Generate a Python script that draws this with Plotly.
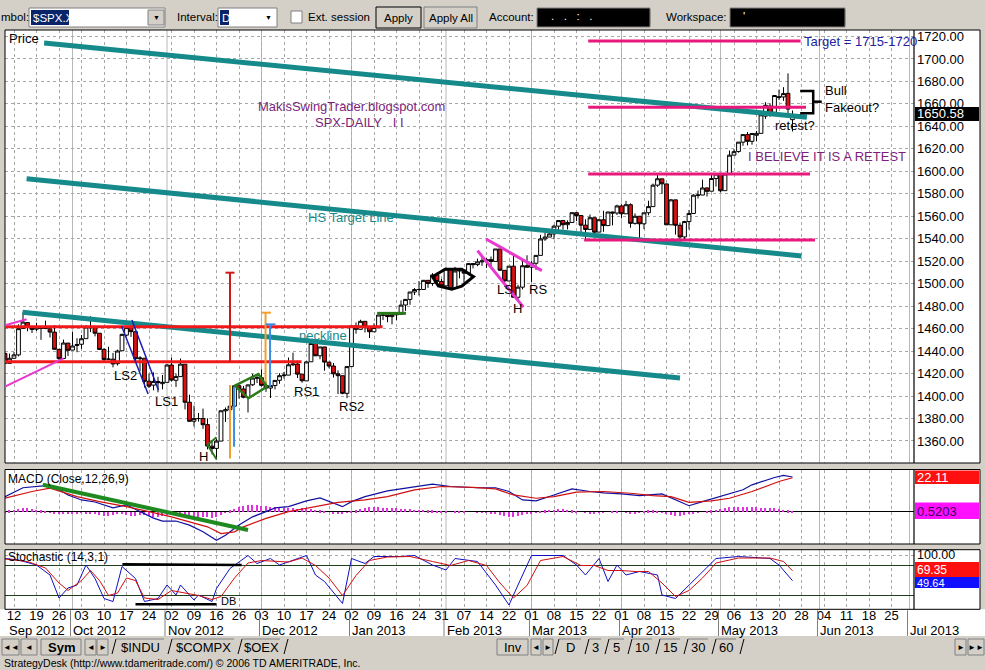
import plotly.graph_objects as go

# ---------------- DATA ----------------
dates = (
    ["2012-09-%02d" % d for d in [10, 11, 12, 13, 14, 17, 18, 19, 20, 21, 24, 25, 26, 27, 28]] +
    ["2012-10-%02d" % d for d in [1, 2, 3, 4, 5, 8, 9, 10, 11, 12, 15, 16, 17, 18, 19, 22, 23, 24, 25, 26, 31]] +
    ["2012-11-%02d" % d for d in [1, 2, 5, 6, 7, 8, 9, 12, 13, 14, 15, 16, 19, 20, 21, 23, 26, 27, 28, 29, 30]] +
    ["2012-12-%02d" % d for d in [3, 4, 5, 6, 7, 10, 11, 12, 13, 14, 17, 18, 19, 20, 21, 24, 26, 27, 28, 31]] +
    ["2013-01-%02d" % d for d in [2, 3, 4, 7, 8, 9, 10, 11, 14, 15, 16, 17, 18, 22, 23, 24, 25, 28, 29, 30, 31]] +
    ["2013-02-%02d" % d for d in [1, 4, 5, 6, 7, 8, 11, 12, 13, 14, 15, 19, 20, 21, 22, 25, 26, 27, 28]] +
    ["2013-03-%02d" % d for d in [1, 4, 5, 6, 7, 8, 11, 12, 13, 14, 15, 18, 19, 20, 21, 22, 25, 26, 27, 28]] +
    ["2013-04-%02d" % d for d in [1, 2, 3, 4, 5, 8, 9, 10, 11, 12, 15, 16, 17, 18, 19, 22, 23, 24, 25, 26, 29, 30]] +
    ["2013-05-%02d" % d for d in [1, 2, 3, 6, 7, 8, 9, 10, 13, 14, 15, 16, 17, 20, 21, 22, 23]]
)

opens = [
    1437.9, 1429.1, 1433.6, 1436.6, 1460.1, 1465.4, 1461.2, 1459.5, 1461.1, 1460.3, 1459.8, 1456.9, 1441.6, 1433.4, 1447.1,
    1440.9, 1445.0, 1446.1, 1451.1, 1461.4, 1460.9, 1455.9, 1441.5, 1432.8, 1432.8, 1428.8, 1440.3, 1454.2, 1460.9, 1457.3, 1433.2, 1433.7, 1413.2, 1409.7, 1413.0, 1411.0,
    1412.2, 1427.6, 1414.0, 1417.3, 1428.3, 1394.5, 1377.6, 1379.9, 1380.0, 1374.6, 1355.4, 1353.4, 1359.9, 1386.8, 1387.8, 1391.0, 1409.2, 1406.3, 1398.8, 1410.0, 1416.0,
    1416.3, 1409.5, 1407.1, 1409.4, 1414.0, 1418.1, 1418.6, 1427.8, 1428.5, 1419.5, 1413.5, 1430.5, 1446.8, 1435.8, 1443.7, 1430.2, 1426.7, 1419.8, 1418.1, 1402.4,
    1426.2, 1462.4, 1459.4, 1466.5, 1461.9, 1457.2, 1461.0, 1472.1, 1472.1, 1470.7, 1472.3, 1472.6, 1481.0, 1486.0, 1492.6, 1494.8, 1494.8, 1503.0, 1500.2, 1507.8, 1502.0,
    1498.1, 1513.2, 1495.7, 1511.3, 1512.1, 1509.4, 1517.9, 1517.0, 1519.4, 1520.3, 1521.4, 1519.8, 1530.9, 1511.9, 1502.4, 1515.6, 1487.9, 1496.9, 1516.0,
    1514.7, 1518.2, 1525.2, 1539.8, 1541.5, 1544.3, 1551.2, 1556.2, 1552.5, 1554.5, 1563.2, 1560.7, 1552.1, 1548.3, 1558.7, 1545.9, 1556.9, 1551.7, 1563.8, 1562.9,
    1569.2, 1562.2, 1570.3, 1553.7, 1560.0, 1553.3, 1563.1, 1568.6, 1587.7, 1593.3, 1588.8, 1552.4, 1574.6, 1552.0, 1541.6, 1555.3, 1562.5, 1578.8, 1578.9, 1585.2, 1582.3, 1593.6,
    1597.6, 1582.8, 1597.6, 1614.4, 1617.6, 1626.0, 1632.7, 1626.7, 1632.1, 1633.8, 1649.1, 1658.1, 1652.5, 1665.7, 1666.2, 1669.4, 1646.0,
]
highs = [
    1438.7, 1437.8, 1439.2, 1463.8, 1474.5, 1465.6, 1461.5, 1465.2, 1461.2, 1467.1, 1460.7, 1463.2, 1441.6, 1450.2, 1447.1,
    1457.1, 1451.5, 1454.3, 1463.1, 1471.0, 1460.9, 1455.9, 1442.5, 1443.9, 1438.4, 1441.3, 1455.5, 1462.2, 1464.0, 1457.3, 1435.5, 1433.7, 1420.0, 1421.1, 1417.1, 1418.8,
    1428.4, 1434.3, 1419.9, 1433.4, 1428.3, 1401.2, 1391.4, 1384.9, 1388.8, 1380.1, 1360.6, 1362.0, 1386.9, 1389.8, 1391.3, 1409.2, 1409.2, 1409.0, 1410.3, 1419.7, 1418.9,
    1423.7, 1413.1, 1415.6, 1414.0, 1420.3, 1421.6, 1434.3, 1438.6, 1431.4, 1419.5, 1430.7, 1448.0, 1447.8, 1443.7, 1443.7, 1430.2, 1429.4, 1422.8, 1418.1, 1426.7,
    1462.4, 1465.5, 1467.9, 1466.5, 1461.9, 1464.7, 1472.3, 1472.8, 1472.1, 1473.3, 1474.0, 1485.2, 1486.0, 1492.6, 1496.1, 1502.3, 1503.3, 1503.2, 1509.4, 1509.9, 1504.2,
    1514.4, 1513.2, 1515.0, 1512.5, 1512.9, 1518.3, 1518.3, 1522.3, 1524.7, 1523.1, 1524.2, 1530.9, 1530.9, 1512.0, 1515.6, 1525.8, 1499.0, 1520.1, 1525.3,
    1520.0, 1525.3, 1543.5, 1545.3, 1545.8, 1552.5, 1556.3, 1556.8, 1556.4, 1563.3, 1563.6, 1560.7, 1557.3, 1561.6, 1558.7, 1557.7, 1564.9, 1564.0, 1564.1, 1570.3,
    1570.6, 1573.7, 1571.5, 1562.6, 1560.0, 1563.1, 1573.9, 1589.1, 1597.4, 1593.3, 1588.8, 1575.4, 1574.6, 1554.4, 1555.9, 1565.6, 1579.6, 1583.0, 1592.6, 1585.8, 1596.7, 1597.6,
    1597.6, 1598.6, 1618.5, 1619.8, 1626.0, 1632.8, 1635.0, 1633.7, 1636.0, 1651.1, 1661.5, 1660.5, 1667.5, 1672.8, 1674.9, 1687.2, 1654.2,
]
lows = [
    1429.0, 1429.1, 1433.0, 1435.3, 1460.1, 1457.6, 1456.1, 1457.9, 1450.0, 1459.5, 1452.1, 1441.6, 1430.5, 1433.4, 1435.6,
    1440.9, 1439.0, 1442.0, 1451.1, 1456.9, 1453.1, 1441.2, 1430.6, 1432.8, 1425.5, 1427.2, 1440.3, 1453.4, 1452.6, 1429.9, 1422.1, 1407.6, 1407.1, 1405.1, 1403.3, 1406.0,
    1412.2, 1412.9, 1408.1, 1417.3, 1388.1, 1377.5, 1373.0, 1377.2, 1370.8, 1352.5, 1348.1, 1343.4, 1359.9, 1377.0, 1386.4, 1391.0, 1397.7, 1398.0, 1385.4, 1409.0, 1411.6,
    1408.5, 1403.7, 1398.2, 1405.9, 1410.9, 1415.6, 1418.6, 1426.8, 1416.0, 1411.9, 1413.5, 1430.5, 1435.8, 1432.8, 1422.6, 1424.7, 1416.4, 1401.8, 1401.6, 1398.1,
    1426.2, 1455.5, 1459.0, 1456.6, 1451.6, 1457.2, 1461.0, 1467.6, 1465.7, 1463.8, 1467.6, 1472.6, 1475.8, 1481.2, 1489.9, 1489.5, 1494.8, 1496.3, 1498.1, 1500.1, 1496.8,
    1498.1, 1495.0, 1495.7, 1504.7, 1498.5, 1509.4, 1513.6, 1515.6, 1515.9, 1514.0, 1514.1, 1519.8, 1511.4, 1497.3, 1502.4, 1487.9, 1485.0, 1494.9, 1514.5,
    1501.5, 1512.3, 1525.2, 1538.1, 1541.5, 1539.5, 1547.4, 1548.2, 1548.3, 1554.5, 1555.7, 1545.1, 1538.6, 1548.3, 1543.6, 1545.9, 1546.2, 1551.7, 1551.9, 1561.1,
    1558.5, 1562.2, 1549.8, 1552.5, 1539.5, 1548.6, 1560.9, 1568.6, 1586.2, 1580.0, 1552.3, 1552.4, 1543.7, 1536.0, 1539.4, 1548.2, 1562.5, 1575.8, 1578.9, 1577.6, 1582.3, 1586.5,
    1581.3, 1582.8, 1597.6, 1614.2, 1616.6, 1622.7, 1623.1, 1623.7, 1626.7, 1633.8, 1646.7, 1648.6, 1652.5, 1663.5, 1662.7, 1648.9, 1635.5,
]
closes = [
    1429.1, 1433.6, 1436.6, 1460.0, 1465.8, 1461.2, 1459.3, 1461.1, 1460.3, 1460.2, 1456.9, 1441.6, 1433.3, 1447.2, 1440.7,
    1444.5, 1445.8, 1451.0, 1461.4, 1460.9, 1455.9, 1441.5, 1432.6, 1432.8, 1428.6, 1440.1, 1454.9, 1460.9, 1457.3, 1433.2, 1433.8, 1413.1, 1408.8, 1413.0, 1411.9, 1412.2,
    1427.6, 1414.2, 1417.3, 1428.4, 1394.5, 1377.5, 1379.9, 1380.0, 1374.5, 1355.5, 1353.3, 1359.9, 1386.9, 1387.8, 1391.0, 1409.2, 1406.3, 1398.9, 1409.9, 1416.0, 1416.2,
    1409.5, 1407.1, 1409.3, 1413.9, 1418.1, 1418.6, 1427.8, 1428.5, 1419.5, 1413.6, 1430.4, 1446.8, 1435.8, 1443.7, 1430.2, 1426.7, 1419.8, 1418.1, 1402.4, 1426.2,
    1462.4, 1459.4, 1466.5, 1461.9, 1457.2, 1461.0, 1472.1, 1472.1, 1470.7, 1472.3, 1472.6, 1480.9, 1486.0, 1492.6, 1494.8, 1494.8, 1503.0, 1500.2, 1507.8, 1502.0, 1498.1,
    1513.2, 1495.7, 1511.3, 1512.1, 1509.4, 1517.9, 1517.0, 1519.4, 1520.3, 1521.4, 1519.8, 1530.9, 1512.0, 1502.4, 1515.6, 1487.9, 1496.9, 1516.0, 1514.7,
    1518.2, 1525.2, 1539.8, 1541.5, 1544.3, 1551.2, 1556.2, 1552.5, 1554.5, 1563.2, 1560.7, 1552.1, 1548.3, 1558.7, 1545.8, 1556.9, 1551.7, 1563.8, 1562.9, 1569.2,
    1562.2, 1570.3, 1553.7, 1560.0, 1553.3, 1563.1, 1568.6, 1587.7, 1593.4, 1588.9, 1552.4, 1574.6, 1552.0, 1541.6, 1555.3, 1562.5, 1578.8, 1578.8, 1585.2, 1582.2, 1593.6, 1597.6,
    1582.7, 1597.6, 1614.4, 1617.5, 1626.0, 1632.7, 1626.7, 1633.7, 1633.8, 1650.3, 1658.8, 1650.5, 1667.5, 1666.3, 1669.2, 1655.4, 1650.5,
]

# MACD (12,26,9): (trading-day index, value)
macd_x = [0, 4, 9, 12, 14, 17, 20, 24, 27, 30, 33, 35, 38, 41, 44, 47, 49, 52, 55, 58, 60, 63, 67, 70, 73, 75, 77, 80, 85, 91,
          95, 99, 105, 109, 112, 115, 118, 122, 126, 130, 133, 137, 141, 146, 149, 152, 155, 159, 164, 166, 171, 173, 175]
macd_v = [9.5, 15.2, 16.6, 13.9, 10.6, 7.4, 6.1, 2.3, 4.2, -0.1, -4.2, -6.1, -6.1, -8.7, -13.0, -18.4, -15.2, -8.7, -3.4, -0.1,
          2.3, 3.1, 6.8, 8.7, 5.5, 3.1, 6.3, 9.5, 13.2, 16.0, 17.5, 16.0, 15.2, 15.2, 12.8, 7.4, 6.8, 10.6, 14.5, 12.8,
          11.9, 11.3, 10.2, 11.3, 7.4, 3.7, 6.3, 9.5, 13.9, 17.1, 21.8, 23.1, 22.1]
sig_x = [0, 6, 10, 16, 21, 27, 32, 37, 41, 45, 48, 51, 53, 58, 63, 69, 74, 80, 85, 91, 97, 104, 109, 113, 118, 122, 127,
         133, 139, 144, 148, 152, 157, 161, 166, 172, 175]
sig_v = [8.5, 12.8, 15.0, 9.5, 6.3, 3.1, -0.1, -3.4, -6.6, -9.8, -14.1, -13.0, -9.8, -4.4, -0.1, 3.1, 5.9, 7.4, 9.5, 13.9,
         16.0, 15.4, 14.5, 10.6, 8.5, 9.5, 12.4, 12.8, 11.7, 10.2, 9.5, 5.9, 6.8, 8.5, 12.8, 19.2, 21.6]
# MACD histogram, one bar per trading day
hist_v = [
    0.5, 1.0,
    1.5, 2.0, 2.5, 2.5, 2.0, 1.5, 1.0, 0.5,
    -0.5, -1.0, -1.5, -1.5, -1.5, -1.0, -0.8, -0.5, -0.8, -1.0, -1.5, -2.0, -2.5, -2.5, -2.0, -1.5, -1.5, -2.0, -2.5, -2.5, -2.0,
    -2.0, -2.5, -3.0, -3.0, -2.5, -2.0, -2.0, -2.5, -3.0, -3.5, -3.5, -3.5, -3.0, -3.0, -3.5, -4.0, -3.5, -2.0,
    -0.5,
    1.0, 2.0, 3.0, 4.0, 4.5, 4.5, 4.5, 4.0, 4.0, 3.5, 3.0, 3.0, 2.5, 2.5, 2.5, 2.0, 2.5, 2.5, 2.0, 1.5, 1.0, 0.5, 0.0,
    -1.0, -1.5, -1.5, -0.5,
    0.5, 1.0, 2.0, 2.5, 3.0, 3.0, 3.0, 2.5, 2.5, 2.5, 2.5, 2.0, 2.0, 2.0, 1.5, 1.5, 1.5, 1.0, 1.0, 0.5, 0.5, 0.5, 0.0, 0.5,
    0.5, 0.5, 0.0, 0.0, -0.5, -0.5, -0.5,
    -1.0, -1.5, -2.0, -2.5, -3.0, -3.0, -2.5, -2.0, -1.5, -1.0, -0.5,
    0.5, 1.0, 1.5, 1.5, 2.0, 2.0, 1.5, 1.0, 0.5, 0.0,
    -0.5, -1.0, -1.0, -0.5, -0.5, 0.0, 0.5, 0.5,
    0.0, -0.5, -1.0, -1.0, -0.5, 0.5, 1.0, 1.0, 0.5, -0.5,
    -1.5, -2.0, -2.5, -2.5, -2.0, -1.5, -1.0, -0.5, 0.0,
    0.5, 1.0, 1.5, 2.0, 2.5, 3.0, 3.0, 3.0, 3.0, 3.0, 3.0, 3.0, 2.5, 2.5, 2.5, 2.5, 2.0, 1.5, 1.0, 0.5203,
]

# Stochastic (14,3,1)
k_x = [0, 3, 7, 10, 12, 14, 16, 18, 20, 22, 24, 26, 29, 31, 34, 36, 38, 39, 42, 43, 46, 47, 50, 54, 56, 59, 61, 64, 67, 69,
       71, 75, 77, 80, 82, 88, 91, 95, 98, 100, 105, 109, 112, 114, 117, 124, 127, 129, 132, 134, 136, 138, 141, 145, 146,
       149, 152, 155, 158, 163, 170, 172, 175]
k_v = [94, 91, 81, 61, 15, 35, 41, 81, 54, 14, 8, 78, 54, 8, 14, 41, 21, 41, 11, 21, 8, 34, 74, 100, 84, 94, 81, 91, 100, 61,
       48, 4, 94, 84, 98, 98, 100, 81, 71, 94, 88, 41, 1, 41, 100, 100, 81, 61, 94, 48, 81, 61, 68, 61, 21, 14, 41, 68, 94,
       98, 94, 81, 49.64]
d_x = [0, 5, 9, 12, 14, 17, 19, 21, 23, 25, 27, 29, 31, 34, 37, 40, 43, 46, 48, 51, 54, 57, 60, 63, 66, 69, 72, 75, 78, 81,
       85, 90, 95, 99, 103, 107, 110, 113, 116, 119, 124, 128, 131, 134, 137, 140, 143, 146, 149, 152, 155, 158, 163, 170,
       173, 175]
d_v = [93, 88, 75, 45, 30, 50, 70, 50, 20, 25, 55, 50, 15, 12, 30, 25, 20, 12, 18, 55, 85, 90, 88, 87, 95, 80, 55, 20, 60,
       90, 97, 98, 88, 80, 90, 80, 45, 15, 40, 90, 98, 80, 80, 70, 70, 68, 68, 45, 18, 30, 55, 85, 95, 95, 88, 69.35]

# date axis labels (one every 5 trading days, first on 2012-09-12)
tick_labels = ["12", "19", "26", "03", "10", "17", "24", "02", "09", "16", "26", "03", "10", "17", "24", "02", "09", "16",
               "24", "31", "07", "14", "22", "01", "08", "15", "22", "01", "08", "15", "22", "29", "06", "13", "20", "28",
               "04", "11", "18", "25"]
first_tick = 2
month_labels = ["Oct 2012", "Nov 2012", "Dec 2012", "Jan 2013", "Feb 2013", "Mar 2013", "Apr 2013", "May 2013",
                "Jun 2013", "Jul 2013"]
month_start = [15, 36, 57, 77, 98, 117, 137, 159, 181, 201]
price_ticks = [1360 + 20 * i for i in range(19)]

# ---------------- GEOMETRY / STYLE ----------------
W, H = 985, 670
FONT = "Liberation Sans, Arial, sans-serif"
GRAY = "#d4d0c8"
L, R, RA = 5, 914, 980
P_TOP, P_BOT = 30, 463
M_TOP, M_BOT = 469.5, 544
S_TOP, S_BOT = 549.7, 609.3
X_RANGE = [0, 202]


def fx(p):
    return p / W


def fy(p):
    return 1 - p / H


shapes = []
annos = []


def rect(x0, y0, x1, y1, fill, line=None, lw=1, layer="above"):
    shapes.append(dict(type="rect", xref="paper", yref="paper", x0=fx(x0), x1=fx(x1), y0=fy(y1), y1=fy(y0),
                       fillcolor=fill, line=dict(color=line or fill, width=lw if line else 0), layer=layer))


def pline(x0, y0, x1, y1, color, lw=1, dash="solid"):
    shapes.append(dict(type="line", xref="paper", yref="paper", x0=fx(x0), x1=fx(x1), y0=fy(y0), y1=fy(y1),
                       line=dict(color=color, width=lw, dash=dash)))


def ptext(t, x, y, size=12, color="black", anchor="left", bold=False):
    annos.append(dict(text=("<b>%s</b>" % t) if bold else t, xref="paper", yref="paper", x=fx(x), y=fy(y),
                      xanchor=anchor, yanchor="middle", showarrow=False,
                      font=dict(family=FONT, size=size, color=color), borderpad=0))


def dline(x0, p0, x1, p1, color, lw, ax="", dash="solid"):
    shapes.append(dict(type="line", xref="x" + ax, yref="y" + ax, x0=x0, y0=p0, x1=x1, y1=p1,
                       line=dict(color=color, width=lw, dash=dash)))


def dpath(pts, color, lw, closed=False):
    d = "M " + " L ".join("%s,%s" % (a, b) for a, b in pts) + (" Z" if closed else "")
    shapes.append(dict(type="path", xref="x", yref="y", path=d, line=dict(color=color, width=lw)))


def dtext(t, x, p, color="black", size=13, anchor="left", ax=""):
    annos.append(dict(text=t, xref="x" + ax, yref="y" + ax, x=x, y=p, xanchor=anchor, yanchor="middle",
                      showarrow=False, font=dict(family=FONT, size=size, color=color)))


# ---------------- FIGURE ----------------
N = len(closes)
xi = list(range(N))
fig = go.Figure()
fig.add_trace(go.Candlestick(
    x=xi, open=opens, high=highs, low=lows, close=closes, xaxis="x", yaxis="y",
    increasing=dict(line=dict(color="black", width=1), fillcolor="white"),
    decreasing=dict(line=dict(color="black", width=1), fillcolor="#e01010"),
    whiskerwidth=0, showlegend=False, hoverinfo="skip"))

fig.add_trace(go.Bar(x=xi, y=hist_v, width=0.25, marker=dict(color="#e030e0", line=dict(width=0)),
                     xaxis="x2", yaxis="y2", showlegend=False, hoverinfo="skip"))
fig.add_trace(go.Scatter(x=macd_x, y=macd_v, mode="lines", line=dict(color="#1010a0", width=1.2),
                         xaxis="x2", yaxis="y2", showlegend=False, hoverinfo="skip"))
fig.add_trace(go.Scatter(x=sig_x, y=sig_v, mode="lines", line=dict(color="#d01010", width=1.2),
                         xaxis="x2", yaxis="y2", showlegend=False, hoverinfo="skip"))
fig.add_trace(go.Scatter(x=k_x, y=k_v, mode="lines", line=dict(color="#1010c0", width=1),
                         xaxis="x3", yaxis="y3", showlegend=False, hoverinfo="skip"))
fig.add_trace(go.Scatter(x=d_x, y=d_v, mode="lines", line=dict(color="#d01010", width=1),
                         xaxis="x3", yaxis="y3", showlegend=False, hoverinfo="skip"))

# ----- chrome: panels -----
for top, bot in [(P_TOP, P_BOT), (M_TOP, M_BOT), (S_TOP, S_BOT)]:
    rect(R, top, RA, bot, "white", layer="below")
    rect(L, top, RA, bot, "rgba(0,0,0,0)", line="black", lw=1)
    pline(R, top, R, bot, "black", 1.2)
rect(0, S_BOT, 985, 636, "white", layer="below")
for ms in month_start:
    for ax in ["", "2", "3"]:
        shapes.append(dict(type="line", xref="x" + ax, yref="y%s domain" % ax, x0=ms, x1=ms, y0=0, y1=1,
                           line=dict(color="#b8b8b8", width=1), layer="below"))
    px_ms = L + (ms - X_RANGE[0]) * (R - L) / (X_RANGE[1] - X_RANGE[0])
    if px_ms < R:
        pline(px_ms - 2, S_BOT + 1, px_ms - 2, 636, "#808080", 1)

# month labels row
ptext("Sep 2012", 8, 630.5, 13)
for lab, ms in zip(month_labels, month_start):
    annos.append(dict(text=lab, xref="x3", yref="paper", x=ms - 0.3, y=fy(630.5), xanchor="left", yanchor="middle",
                      showarrow=False, font=dict(family=FONT, size=13, color="black")))

# price / indicator value boxes
rect(915, 107, 979, 121, "black")
ptext("1650.58", 916, 114, 13, "white")
ptext("Price", 8, 38, 13)
ptext("MACD (Close,12,26,9)", 7, 479, 12)
rect(915, 470.5, 979, 484, "#ff1010")
ptext("22.11", 916, 477.5, 13, "white")
rect(915, 502.5, 979, 519, "#ff10ff")
ptext("0.5203", 916, 511, 13, "#3a0060")
ptext("Stochastic (14,3,1)", 7, 557, 12)
ptext("100.00", 916, 555, 12.5)
rect(915, 562, 979, 577, "#ff1010")
ptext("69.35", 916, 569.5, 12, "white")
rect(915, 577, 979, 588, "#1010ff")
ptext("49.64", 916, 582.5, 11, "white")

# ----- toolbar -----
ptext("mbol:", 0, 17, 11.5)
rect(29, 8, 165, 27, "white", line="#808080")
rect(31, 10, 69, 25, "#0a246a")
ptext("$SPX.X", 32, 17.5, 11.5, "white")
for bx in [148, 260, 634, 829]:
    rect(bx, 10, bx + 16, 25, GRAY, line="#808080")
    ptext("▼", bx + 8, 17.5, 7, "black", anchor="center")
ptext("Interval:", 176, 17, 11.5)
rect(218, 8, 277, 27, "white", line="#808080")
rect(220, 10, 229, 25, "#0a246a")
ptext("D", 221, 17.5, 11.5, "white")
rect(291, 11, 302, 23, "white", line="#808080")
ptext("Ext. session", 307, 17, 11.5)
rect(376, 7, 421, 28, GRAY, line="black")
ptext("Apply", 398.5, 17.5, 11.5, anchor="center")
rect(424, 7, 477, 28, GRAY, line="#808080")
ptext("Apply All", 450.5, 17.5, 11.5, anchor="center")
ptext("Account:", 488, 17, 11.5)
rect(537, 8, 650, 27, "black", line="#808080")
ptext(".   .   :   .", 550, 16, 11.5, "white")
ptext("Workspace:", 665, 17, 11.5)
rect(730, 8, 845, 27, "black", line="#808080")
ptext("'", 742, 16, 11.5, "white")

# ----- tab bar -----
for x0, x1, t, b in [(2, 19, "◄◄", False), (21, 37, "◄", False), (41, 81, "Sym", True), (85, 96, "◄", False),
                     (97, 108, "►", False), (497, 528, "Inv", False), (531, 541, "◄", False), (543, 553, "►", False),
                     (955, 966, "►", False), (968, 984, "►►", False)]:
    rect(x0, 639, x1, 655, GRAY, line="#808080")
    ptext(t, (x0 + x1) / 2, 647, 8 if t in ("◄", "►", "◄◄", "►►") else 13, anchor="center", bold=b)
for x0, x1, t in [(112, 168, "$INDU"), (168, 238, "$COMPX"), (238, 284, "$OEX"), (555, 585, "D"), (585, 605, "3"),
                  (605, 628, "5"), (628, 656, "10"), (656, 684, "15"), (684, 712, "30"), (712, 740, "60")]:
    pline(x0, 654, x0 + 4, 639, "black", 1)
    pline(x0 + 4, 639, x1 - 4, 639, "#808080", 1)
    ptext(t, (x0 + x1) / 2, 647, 13, anchor="center")
pline(740, 654, 744, 639, "black", 1)
pline(284, 654, 288, 639, "black", 1)
ptext("StrategyDesk (http://www.tdameritrade.com/) © 2006 TD AMERITRADE, Inc.", 3, 663, 10.5)

# ----- drawings on the price chart (trading-day index, price) -----
TEAL = "#168a8a"
PINK = "#e8187c"
MAG = "#e838d0"
for x0, p0, x1, p1 in [(8.7, 1714.2, 178.2, 1648.1), (4.8, 1593.4, 177.0, 1524.6), (3.9, 1474.5, 150.0, 1416.0)]:
    dline(x0, p0, x1, p1, TEAL, 5)
for x0, p, x1 in [(129.6, 1716.0, 176.8), (129.6, 1657.0, 178.0), (129.6, 1597.6, 178.9), (128.7, 1538.9, 180.0)]:
    dline(x0, p, x1, p, PINK, 3)
dline(0, 1461.7, 83.9, 1461.7, "#f01818", 3)
dline(0, 1430.5, 65.9, 1430.5, "#f01818", 3)
dline(50, 1509.8, 50, 1430.5, "#d01818", 2)
dline(49, 1509.8, 51, 1509.8, "#d01818", 2)
dline(50, 1409.8, 50, 1344.5, "#f0a030", 2)
dline(57.9, 1474.2, 57.9, 1409.0, "#f0a030", 2)
dline(56.9, 1474.2, 59.1, 1474.2, "#f0a030", 2)
dline(50.9, 1408.3, 50.9, 1354.9, "#3c8ce6", 2)
dline(58.9, 1463.8, 58.9, 1408.3, "#3c8ce6", 2)
dline(57.9, 1463.8, 60.1, 1463.8, "#3c8ce6", 2)
dpath([(51.1, 1409.2), (56.3, 1419.6), (58.2, 1408.3), (54.1, 1398.0)], "#2a7a1a", 2.5, closed=True)
dpath([(47.0, 1363.3), (45.0, 1356.4), (47.0, 1343.7)], "#2a7a1a", 2)
dline(25.9, 1462.3, 31.8, 1401.8, "#1c1cb4", 1.5)
dline(28.2, 1467.7, 34.1, 1405.4, "#1c1cb4", 1.5)
dline(0, 1463.0, 4.8, 1468.3, MAG, 2)
dline(0, 1408.5, 13.0, 1433.6, MAG, 2)
dline(82.7, 1473.6, 89.1, 1473.6, "#2a7a1a", 3)
dpath([(95.0, 1506.2), (97.8, 1512.8), (101.5, 1512.8), (104.1, 1506.2), (101.5, 1497.9), (99.3, 1495.0),
       (96.3, 1497.9)], "black", 3, closed=True)
dline(106.9, 1539.8, 119.3, 1511.6, MAG, 3)
dline(105.0, 1529.4, 115.2, 1479.1, MAG, 3)
dpath([(176.7, 1671.5), (179.6, 1671.5), (179.6, 1651.6), (176.7, 1651.6)], "black", 2.5)
dline(179.6, 1662.0, 181.5, 1662.0, "black", 2.5)
# indicator drawings
dline(8.4, 17.1, 54.0, -11.8, "#1f8a1f", 4, ax="2")
dline(26.1, 82.4, 52.6, 81.0, "black", 2.5, ax="3")
dline(29.0, 2.4, 47.0, 2.4, "black", 2.5, ax="3")
dtext("DB", 47.5, 10, "black", 11, ax="3")

# texts on the price chart
PURPLE = "#7b1f7b"
dtext("Target = 1715-1720", 177.1, 1716.0, "#2020a0")
dtext("MakisSwingTrader.blogspot.com", 76.9, 1658.1, PURPLE, anchor="center")
dtext("SPX-DAILY\u00a0\u00a0\u00a0I I", 68.4, 1643.9, PURPLE)
dtext("HS Target Line", 66.9, 1558.5, TEAL)
dtext("neckline", 64.9, 1454.3, TEAL)
dtext("LS2", 23.8, 1418.7)
dtext("LS1", 32.9, 1395.0)
dtext("H", 44.0, 1346.0, anchor="center")
dtext("RS1", 63.8, 1403.9)
dtext("RS2", 73.8, 1391.0)
dtext("LS", 108.9, 1494.4)
dtext("RS", 116.0, 1495.0)
dtext("H", 113.8, 1478.0, anchor="center")
dtext("Bull", 181.8, 1671.8)
dtext("Fakeout?", 181.8, 1657.0)
dtext("retest?", 170.7, 1641.2)
dtext("I BELIEVE IT IS A RETEST", 164.7, 1613.0, PURPLE)

# ----- axes -----
tick_pos = [first_tick + 5 * i for i in range(len(tick_labels))]
xbase = dict(range=X_RANGE, showgrid=True, gridcolor="#a8a8a8", griddash="dot", gridwidth=1, tickvals=tick_pos,
             zeroline=False, showline=False, ticks="", fixedrange=True)
fig.update_layout(
    width=W, height=H, margin=dict(l=0, r=0, t=0, b=0), paper_bgcolor=GRAY, plot_bgcolor="white",
    showlegend=False, shapes=shapes, annotations=annos, font=dict(family=FONT, size=13, color="black"),
    boxgap=0.12, boxgroupgap=0.05, bargap=0,
    xaxis=dict(domain=[fx(L), fx(R)], anchor="y", showticklabels=False, rangeslider=dict(visible=False), **xbase),
    xaxis2=dict(domain=[fx(L), fx(R)], anchor="y2", showticklabels=False, **xbase),
    xaxis3=dict(domain=[fx(L), fx(R)], anchor="y3", showticklabels=True, ticktext=tick_labels,
                tickfont=dict(family=FONT, size=13, color="black"), ticklabelstandoff=-3, **xbase),
    yaxis=dict(domain=[fy(P_BOT), fy(P_TOP)], range=[1340.4, 1725.8], side="right", anchor="x", tickvals=price_ticks,
               tickformat=".2f", showgrid=True, gridcolor="#a8a8a8", griddash="dot", zeroline=False, ticks="",
               tickfont=dict(family=FONT, size=13, color="black"), ticklabelstandoff=2, fixedrange=True),
    yaxis2=dict(domain=[fy(M_BOT), fy(M_TOP)], range=[-20.8, 26.9], side="right", anchor="x2", showticklabels=False,
                showgrid=False, zeroline=True, zerolinecolor="black", zerolinewidth=1.2, fixedrange=True),
    yaxis3=dict(domain=[fy(S_BOT), fy(S_TOP)], range=[-7.6, 111.6], side="right", anchor="x3", showticklabels=False,
                tickvals=[20, 80, 100], showgrid=False, zeroline=False, fixedrange=True),
)
for lvl, col, dsh in [(80, "#1f3f1f", "solid"), (20, "#1f3f1f", "solid"), (100, "#a8a8a8", "dot")]:
    fig.add_shape(type="line", xref="x3 domain", yref="y3", x0=0, x1=1, y0=lvl, y1=lvl,
                  line=dict(color=col, width=1, dash=dsh), layer="below")

fig.write_html("out.html", config={"displayModeBar": False},
               post_script="document.body.style.margin='0px';document.body.style.overflow='hidden';")
